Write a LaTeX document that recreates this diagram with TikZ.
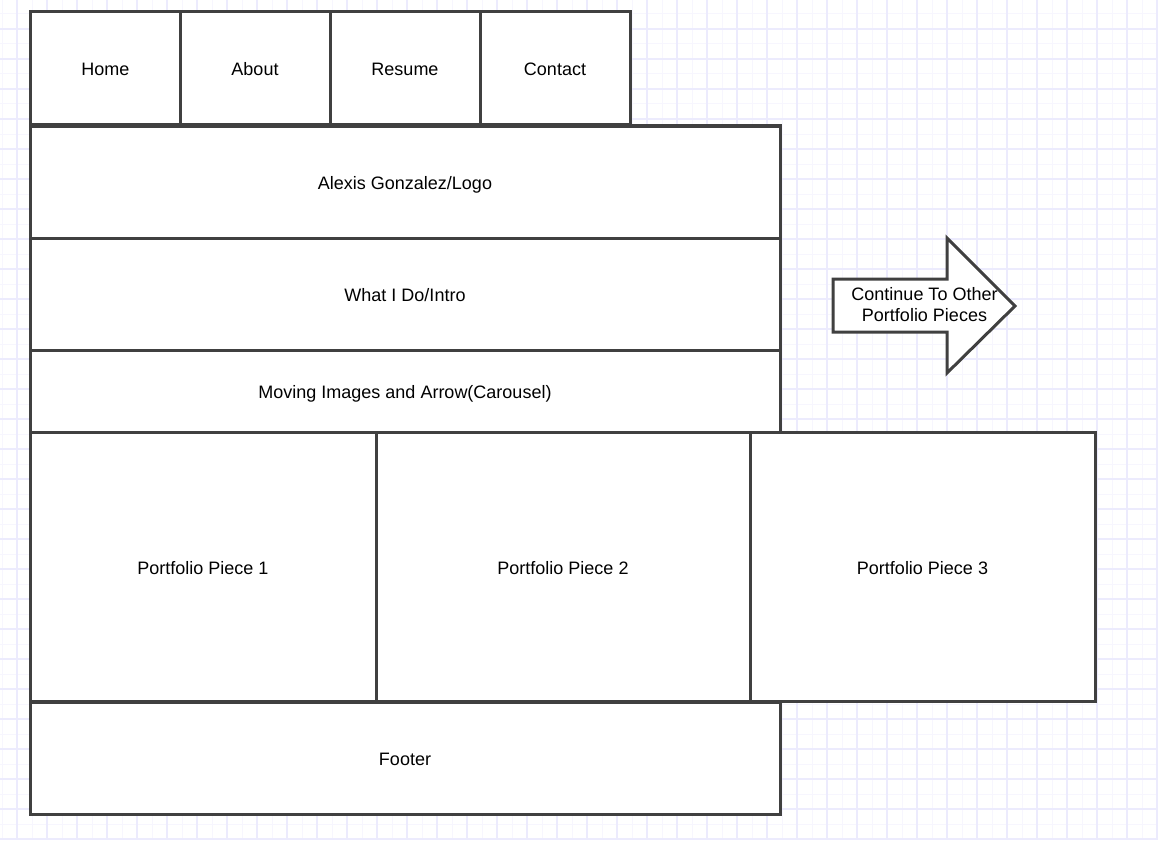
\documentclass[tikz,border=0pt]{standalone}
\usepackage{fontspec}
\setmainfont{Liberation Sans}
\definecolor{gridmajor}{RGB}{236,235,253}
\definecolor{gridminor}{RGB}{247,246,254}
\definecolor{boxline}{RGB}{64,64,64}
\begin{document}
\begin{tikzpicture}[x=1pt,y=-1pt,
  box/.style={draw=boxline, line width=3pt, fill=white, rectangle, inner sep=0pt, outer sep=0pt,
    font=\fontsize{18}{21}\selectfont, text depth=0pt, text height=14pt},
  lbl/.style={font=\fontsize{18}{21}\selectfont, align=center, inner sep=0pt}]
\useasboundingbox (0,0) rectangle (1158,840);
\fill[white] (0,0) rectangle (1158,840);
% minor grid
\foreach \x in {2,32,...,1157} \draw[gridminor, line width=1pt] (\x,0) -- (\x,840);
\foreach \y in {14,44,...,839} \draw[gridminor, line width=1pt] (0,\y) -- (1158,\y);
% major grid
\foreach \x in {17,47,...,1157} \draw[gridmajor, line width=1.6pt] (\x,0) -- (\x,840);
\foreach \y in {29,59,...,839} \draw[gridmajor, line width=1.6pt] (0,\y) -- (1158,\y);
% nav
\node[box, minimum width=150pt, minimum height=113pt] (home) at (105.5,68.5) {Home};
\node[box, minimum width=150pt, minimum height=113pt] (about) at (255,68.5) {About};
\node[box, minimum width=150pt, minimum height=113pt] (resume) at (405,68.5) {Resume};
\node[box, minimum width=150pt, minimum height=113pt] (contact) at (555,68.5) {Contact};
% rows
\node[box, minimum width=750pt, minimum height=112pt] (logo) at (405,182) {Alexis Gonzalez/Logo};
\node[box, minimum width=750pt, minimum height=112pt] (intro) at (405,294) {What I Do/Intro};
\node[box, minimum width=750pt, minimum height=82pt] (carousel) at (405,391) {Moving Images and Arrow(Carousel)};
% portfolio
\node[box, minimum width=346pt, minimum height=269pt] (p1) at (203,567) {Portfolio Piece 1};
\node[box, minimum width=374pt, minimum height=269pt] (p2) at (563,567) {Portfolio Piece 2};
\node[box, minimum width=345pt, minimum height=269pt] (p3) at (922.5,567) {Portfolio Piece 3};
% footer
\node[box, minimum width=750pt, minimum height=112pt] (footer) at (405,758) {Footer};
% arrow
\draw[draw=boxline, line width=3pt, fill=white, line join=miter]
  (833,279) -- (947,279) -- (947,238) -- (1015,306) -- (947,373) -- (947,332) -- (833,332) -- cycle;
\node[lbl] (cont) at (924.5,304.5) {Continue To Other\\Portfolio Pieces};
\end{tikzpicture}
\end{document}
